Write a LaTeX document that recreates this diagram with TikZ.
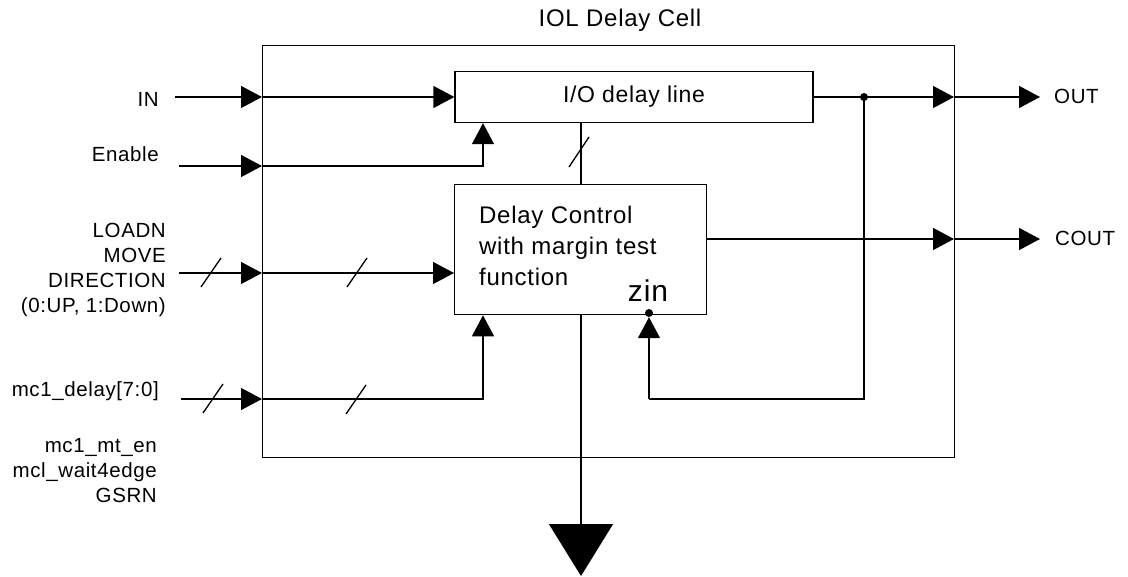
\documentclass[tikz,border=0pt]{standalone}
\usepackage{fontspec}
\setmainfont{Liberation Sans}[LetterSpace=3]
\usetikzlibrary{arrows.meta}
\begin{document}
\begin{tikzpicture}[x=1pt,y=-1pt,
  wire/.style={line width=1.3pt},
  tri/.style={-{Triangle[length=21pt,width=22pt]}},
  bigtri/.style={-{Triangle[length=52pt,width=64pt]}},
  lbl/.style={font=\fontsize{20.5}{25}\selectfont, inner sep=0pt},
  boxtxt/.style={font=\fontsize{24}{31}\selectfont, inner sep=0pt},
  blk/.style={draw, line width=1.3pt, inner sep=0pt},
  slash/.style={line width=1.3pt},
  dot/.style={circle, fill, inner sep=0pt, minimum size=8pt}]
\useasboundingbox (0,0) rectangle (1128,577);

% blocks
\node[blk, minimum width=692pt, minimum height=412pt, anchor=north west] (cell) at (262,45) {};
\node[font=\fontsize{24}{24}\selectfont, inner sep=0pt, anchor=base] (title) at (620,27) {IOL Delay Cell};
\node[blk, minimum width=358pt, minimum height=51pt, font=\fontsize{23}{23}\selectfont] (dl) at (634,97) {I/O delay line};
\node[blk, minimum width=252pt, minimum height=130pt, anchor=north west] (dc) at (454,184) {};
\node[boxtxt, align=left, anchor=north west] (dctxt) at (479,206) {Delay Control\\with margin test\\function};
\node[font=\fontsize{30}{30}\selectfont, inner sep=0pt, anchor=base] (zin) at (648,302) {zin};

% left labels
\node[lbl, anchor=base east] (lin) at (159,107) {IN};
\node[lbl, anchor=base east] (len) at (159,162) {Enable};
\node[lbl, align=right, anchor=north east] (lld) at (166,223) {LOADN\\MOVE\\DIRECTION\\(0:UP, 1:Down)};
\node[lbl, anchor=base east] (lmc) at (159,397) {mc1\_delay[7:0]};
\node[lbl, align=right, anchor=north east] (lmt) at (157,438) {mc1\_mt\_en\\mcl\_wait4edge\\GSRN};

% right labels
\node[lbl, anchor=base west] (lout) at (1054,104) {OUT};
\node[lbl, anchor=base west] (lcout) at (1055,246) {COUT};

% coordinates
\coordinate (inS) at (175,97);
\coordinate (inX) at (262,97);
\coordinate (enS) at (179,166);
\coordinate (enX) at (262,166);
\coordinate (enC) at (483,166);
\coordinate (ldS) at (179,273);
\coordinate (ldX) at (262,273);
\coordinate (mcS) at (181,399);
\coordinate (mcX) at (262,399);
\coordinate (mcC) at (483,399);
\coordinate (vx) at (581,0);
\coordinate (bot) at (581,576);
\coordinate (outX) at (954,97);
\coordinate (outE) at (1040,97);
\coordinate (coX) at (954,239);
\coordinate (coE) at (1040,239);
\coordinate (fbA) at (649,399);
\coordinate (fbB) at (864,399);
\node[dot] (jdot) at (864,97) {};
\node[dot] (zdot) at (649,313) {};

% IN
\draw[wire,tri] (inS) -- (inX);
\draw[wire,tri] (inX) -- (dl.west);
% Enable
\draw[wire,tri] (enS) -- (enX);
\draw[wire,tri] (enX) -- (enC) -- (enC |- dl.south);
% LOADN bus
\draw[wire,tri] (ldS) -- (ldX);
\draw[wire,tri] (ldX) -- (ldX -| dc.west);
\draw[slash] (201,287) -- (221,258);
\draw[slash] (347,287) -- (367,258);
% mc1_delay bus
\draw[wire,tri] (mcS) -- (mcX);
\draw[wire,tri] (mcX) -- (mcC) -- (mcC |- dc.south);
\draw[slash] (203,413) -- (223,384);
\draw[slash] (346,414) -- (366,385);
% control to delay line
\draw[wire] (vx |- dc.north) -- (vx |- dl.south);
\draw[slash] (569,167) -- (589,137);
% bottom output
\draw[wire,bigtri] (vx |- dc.south) -- (bot);
% OUT
\draw[wire,tri] (dl.east |- outX) -- (outX);
\draw[wire,tri] (outX) -- (outE);
% COUT
\draw[wire,tri] (coX -| dc.east) -- (coX);
\draw[wire,tri] (coX) -- (coE);
% feedback to zin
\draw[wire] (jdot.center) -- (fbB) -- (fbA);
\draw[wire,tri] (fbA) -- (zdot);
\end{tikzpicture}
\end{document}
